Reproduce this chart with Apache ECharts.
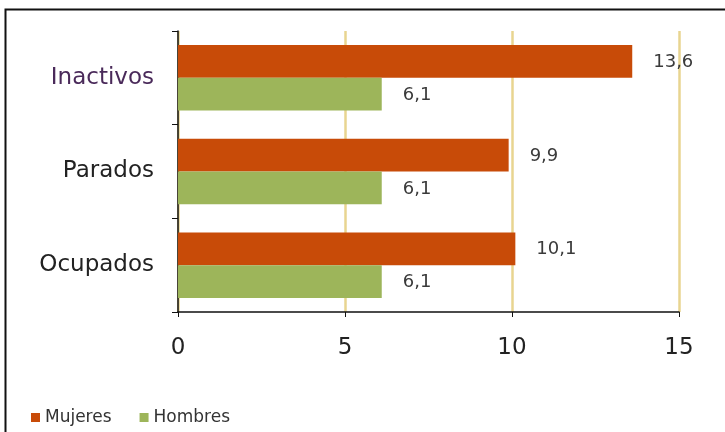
<!DOCTYPE html>
<html><head><meta charset="utf-8">
<script src="https://cdn.jsdelivr.net/npm/echarts@6/dist/echarts.min.js"></script>
<style>html,body{margin:0;padding:0;background:#fff}#c{width:725px;height:432px}</style>
</head><body><div id="c"></div>
<script>
var categories = ['Ocupados', 'Parados', 'Inactivos'];
var seriesNames = ['Mujeres', 'Hombres'];
var mujeres = [10.1, 9.9, 13.6];
var hombres = [6.1, 6.1, 6.1];
var xTicks = [0, 5, 10, 15];

var FF = 'DejaVu Sans, Liberation Sans, Arial, sans-serif';
var chart = echarts.init(document.getElementById('c'));
function fmt(p){ return String(p.value).replace('.', ','); }
var lbl = {show:true, position:'right', distance:21, offset:[0,1], formatter:fmt,
  color:'#3a3a3a', fontSize:18, fontFamily:FF};
chart.setOption({
  animation:false,
  textStyle:{fontFamily:FF},
  graphic:[{type:'rect', shape:{x:5.5,y:9.5,width:730,height:440}, style:{fill:'none', stroke:'#111', lineWidth:2}, z:-10}],
  grid:{left:178, right:46, top:31, bottom:120},
  legend:{data:seriesNames, left:26, top:404, icon:'rect', itemWidth:9, itemHeight:9, itemGap:28,
    textStyle:{fontSize:17, color:'#333', fontFamily:FF}},
  xAxis:{type:'value', min:xTicks[0], max:xTicks[xTicks.length-1], interval:5,
    axisLine:{show:true, lineStyle:{color:'#111', width:1.5}},
    axisTick:{show:true, length:5, lineStyle:{color:'#111'}},
    splitLine:{show:true, lineStyle:{color:'#e8d590', width:2.5}},
    axisLabel:{fontSize:23, color:'#222', margin:25, fontFamily:FF}},
  yAxis:{type:'category', data:categories,
    axisLine:{show:true, lineStyle:{color:'#111', width:1.5}},
    axisTick:{show:true, length:6, lineStyle:{color:'#111'}},
    axisLabel:{fontSize:23, color:'#222', margin:24, fontFamily:FF,
      formatter:function(v){ return v==='Inactivos' ? '{p|'+v+'}' : v; },
      rich:{p:{fontSize:23, color:'#4a2a5a', fontFamily:FF}}}},
  series:[
    {name:seriesNames[0], type:'bar', data:mujeres, barGap:'0%', barCategoryGap:'30%',
      itemStyle:{color:'#c84b08'}, label:lbl},
    {name:seriesNames[1], type:'bar', data:hombres, barGap:'0%', barCategoryGap:'30%',
      itemStyle:{color:'#9db55a'}, label:lbl}
  ]
});
</script></body></html>
